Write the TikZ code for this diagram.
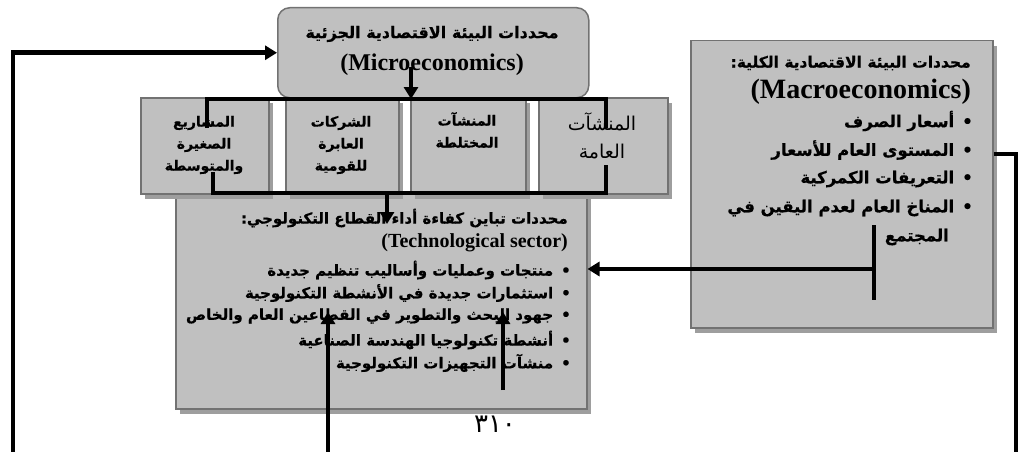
\documentclass[tikz,border=0pt]{standalone}
\usepackage{fontspec}
\setmainfont{Liberation Serif}
\newfontfamily\arabicfont[Script=Arabic, BoldFeatures={FakeBold=0.6}]{DejaVu Sans}
\TeXXeTstate=1
\usetikzlibrary{arrows.meta,shadows}
\definecolor{boxfill}{HTML}{C0C0C0}
\definecolor{boxline}{HTML}{727272}
\definecolor{boxshade}{HTML}{9E9E9E}
\tikzset{
  panel/.style={draw=boxline, fill=boxfill, line width=1.5pt, inner sep=0pt, anchor=north west},
  shaded/.style={drop shadow={shadow xshift=4pt, shadow yshift=-5pt, fill=boxshade, opacity=1}},
  flow/.style={line width=4.5pt},
  tip/.style={-{Triangle[length=12pt,width=14pt]}},
  arb/.style={inner sep=0pt, font=\arabicfont\bfseries\fontsize{15pt}{22pt}\selectfont},
  arsm/.style={inner sep=0pt, font=\arabicfont\bfseries\fontsize{14pt}{22pt}\selectfont},
  arbig/.style={inner sep=0pt, font=\arabicfont\bfseries\fontsize{16.5pt}{29pt}\selectfont},
  arreg/.style={inner sep=0pt, font=\arabicfont\fontsize{19pt}{28pt}\selectfont},
  en/.style={inner sep=0pt, font=\bfseries\fontsize{20pt}{22pt}\selectfont},
}
\begin{document}
\begin{tikzpicture}[x=1pt,y=-1pt]
\useasboundingbox (0,0) rectangle (1025,452);
%boxes
\node[panel, shaded, minimum width=411pt, minimum height=215pt] (tech) at (175,193) {};
\node[panel, shaded, minimum width=302pt, minimum height=287pt] (macro) at (690,40) {};
\node[panel, rounded corners=12pt, minimum width=311pt, minimum height=90pt] (micro) at (277,7) {};
\node[panel, shaded, minimum width=128pt, minimum height=96pt] (sme) at (140,97) {};
\node[panel, shaded, minimum width=113pt, minimum height=96pt] (mnc) at (285,97) {};
\node[panel, shaded, minimum width=115pt, minimum height=96pt] (mixed) at (410,97) {};
\node[panel, shaded, minimum width=129pt, minimum height=96pt] (public) at (538,97) {};
%micro
\node[arbig, font=\arabicfont\bfseries\fontsize{16pt}{20pt}\selectfont] (microar) at (432,34) {\beginR محددات البيئة الاقتصادية الجزئية\endR};
\node[en, font=\bfseries\fontsize{24pt}{26pt}\selectfont] (microen) at (432,65) {(Microeconomics)};
%firms
\node[arsm, align=center] (smetx) at (204,145) {\beginR المشاريع\endR\\\beginR الصغيرة\endR\\\beginR والمتوسطة\endR};
\node[arsm, align=center] (mnctx) at (341,145) {\beginR الشركات\endR\\\beginR العابرة\endR\\\beginR للقومية\endR};
\node[arsm, align=center] (mixedtx) at (467,130) {\beginR المنشآت\endR\\\beginR المختلطة\endR};
\node[arreg, align=center] (publictx) at (602,136) {\beginR المنشآت\endR\\\beginR العامة\endR};
%technological sector
\node[arb, anchor=east] (t0) at (568,218) {\beginR محددات تباين كفاءة أداء القطاع التكنولوجي:\endR};
\node[en, anchor=east] (t1) at (568,243) {(Technological sector)};
\node[arb, anchor=east] (t2) at (571,270) {\beginR •\hspace{8pt}منتجات وعمليات وأساليب تنظيم جديدة\endR};
\node[arb, anchor=east] (t3) at (571,293) {\beginR •\hspace{8pt}استثمارات جديدة في الأنشطة التكنولوجية\endR};
\node[arb, anchor=east] (t4) at (571,316) {\beginR •\hspace{8pt}جهود البحث والتطوير في القطاعين العام والخاص\endR};
\node[arb, anchor=east] (t5) at (571,340) {\beginR •\hspace{8pt}أنشطة تكنولوجيا الهندسة الصناعية\endR};
\node[arb, anchor=east] (t6) at (571,363) {\beginR •\hspace{8pt}منشآت التجهيزات التكنولوجية\endR};
%macro
\node[arbig, anchor=east, font=\arabicfont\bfseries\fontsize{15.5pt}{20pt}\selectfont] (m0) at (971,63) {\beginR محددات البيئة الاقتصادية الكلية:\endR};
\node[en, anchor=east, font=\bfseries\fontsize{28pt}{30pt}\selectfont] (m1) at (971,92) {(Macroeconomics)};
\node[arbig, anchor=east] (m2) at (973,121) {\beginR •\hspace{8pt}أسعار الصرف\endR};
\node[arbig, anchor=east] (m3) at (973,150) {\beginR •\hspace{8pt}المستوى العام للأسعار\endR};
\node[arbig, anchor=east] (m4) at (973,179) {\beginR •\hspace{8pt}التعريفات الكمركية\endR};
\node[arbig, anchor=east] (m5) at (973,208) {\beginR •\hspace{8pt}المناخ العام لعدم اليقين في\endR};
\node[arbig, anchor=east] (m6) at (949,237) {\beginR المجتمع\endR};
%page number
\node[inner sep=0pt, font=\arabicfont\fontsize{26pt}{28pt}\selectfont] (page) at (495,424) {٣١٠};
%connectors
\coordinate (lfoot) at (13,452);
\draw[flow,tip] (lfoot) |- (micro.west);
\coordinate (mstem) at (411,67);
\coordinate (mhead) at (411,99);
\draw[flow,tip] (mstem) -- (mhead);
\coordinate (tl0) at (207,128);
\coordinate (tl) at (207,99);
\coordinate (tr) at (606,99);
\coordinate (tr0) at (606,128);
\draw[flow] (tl0) -- (tl) -- (tr) -- (tr0);
\coordinate (bl0) at (213,172);
\coordinate (bl) at (213,193);
\coordinate (br) at (606,193);
\coordinate (br0) at (606,165);
\draw[flow] (bl0) -- (bl) -- (br) -- (br0);
\coordinate (bmid) at (387,193);
\coordinate (tin) at (387,224);
\draw[flow,tip] (bmid) -- (tin);
\coordinate (mtop) at (874,225);
\coordinate (mbot) at (874,300);
\coordinate (mmid) at (874,269);
\draw[flow] (mtop) -- (mbot);
\draw[flow,tip] (mmid) -- (tech.east |- mmid);
\coordinate (rknee) at (1016,154);
\coordinate (rfoot) at (1016,452);
\draw[flow] (macro.east |- rknee) -- (rknee) -- (rfoot);
\coordinate (ufoot) at (328,452);
\coordinate (utip) at (328,312);
\draw[flow,tip] (ufoot) -- (utip);
\coordinate (sfoot) at (503,390);
\coordinate (stip) at (503,312);
\draw[flow,tip] (sfoot) -- (stip);
\end{tikzpicture}
\end{document}
